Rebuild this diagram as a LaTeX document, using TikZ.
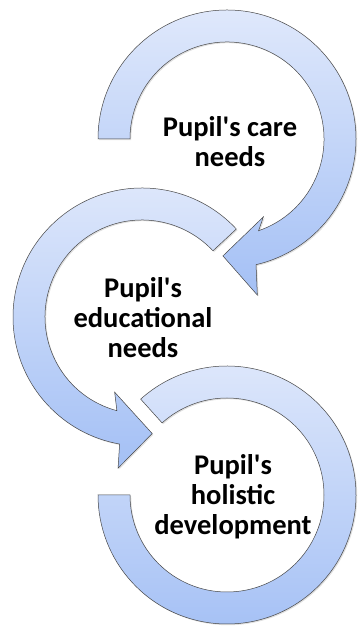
\documentclass[tikz,border=0pt]{standalone}
\usepackage{fontspec}
\setmainfont{Carlito}
\usetikzlibrary{shadows}
\definecolor{ringtop}{HTML}{DFE8FB}
\definecolor{ringbot}{HTML}{A4C0F5}

\begin{document}
\begin{tikzpicture}[x=1pt,y=1pt,
  ring/.style={draw=gray!55!black, line width=0.5pt, top color=ringtop, bottom color=ringbot,
    drop shadow={opacity=0.25, shadow xshift=1.2pt, shadow yshift=-1.2pt}},
  lbl/.style={align=center, font=\fontsize{28.5}{30}\selectfont\bfseries}]
  \useasboundingbox (0,0) rectangle (357,628);
  \coordinate (c1) at (227,489);
  \coordinate (c2) at (142,311);
  \coordinate (c3) at (227,133);
  % care needs
  \draw[ring,shift={(c1)}] (180:129) arc[start angle=180,end angle=-77,radius=129]
    -- (-79:159) -- (-92:117) -- (-65:86) -- (-71:97)
    arc[start angle=-71,end angle=180,radius=97] -- cycle;
  % educational needs
  \draw[ring,shift={(c2)}] (43:129) arc[start angle=43,end angle=260,radius=129]
    -- (261:153) -- (275:117) -- (250:80) -- (255:97)
    arc[start angle=255,end angle=43,radius=97] -- cycle;
  % holistic development
  \draw[ring,shift={(c3)}] (132:129) arc[start angle=132,end angle=-180,radius=129]
    -- (180:97) arc[start angle=-180,end angle=132,radius=97] -- cycle;
  \node[lbl] (care) at (230,486) {Pupil\textquotesingle s care\\needs};
  \node[lbl] (edu) at (143,310) {Pupil\textquotesingle s\\educational\\needs};
  \node[lbl] (hol) at (233,131) {Pupil\textquotesingle s\\holistic\\development};
\end{tikzpicture}
\end{document}
